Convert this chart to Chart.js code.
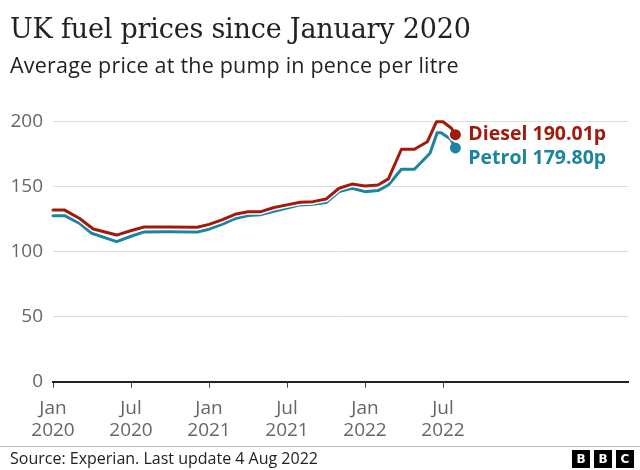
<!DOCTYPE html>
<html>
<head>
<meta charset="utf-8">
<script src="https://cdn.jsdelivr.net/npm/chart.js@4/dist/chart.umd.min.js"></script>
<style>
  html, body { margin: 0; padding: 0; background: #fff; }
  #wrap { position: relative; width: 640px; height: 470px; overflow: hidden; }
  #title { position: absolute; left: 10px; top: 13px; font-family: "DejaVu Serif", serif; font-size: 27px; color: #222; white-space: nowrap; letter-spacing: -0.2px; }
  #subtitle { position: absolute; left: 10px; top: 50px; font-family: "Open Sans", sans-serif; font-size: 21.5px; color: #222; white-space: nowrap; letter-spacing: 0.2px; }
  #rule { position: absolute; left: 0; top: 446px; width: 640px; height: 1px; background: #bbb; }
  #source { position: absolute; left: 10px; top: 447px; font-family: "Open Sans", sans-serif; font-size: 16px; color: #222; white-space: nowrap; }
  #logo { position: absolute; left: 572px; top: 450px; display: flex; gap: 4px; }
  #logo span { display: block; width: 18px; height: 18px; background: #000; color: #fff; font-family: "DejaVu Sans", sans-serif; font-weight: bold; font-size: 12px; line-height: 18px; text-align: center; }
  canvas { position: absolute; left: 0; top: 0; }
</style>
</head>
<body>
<div id="wrap">
  <canvas id="c" width="640" height="470"></canvas>
  <div id="title">UK fuel prices since January 2020</div>
  <div id="subtitle">Average price at the pump in pence per litre</div>
  <div id="rule"></div>
  <div id="source">Source: Experian. Last update 4 Aug 2022</div>
  <div id="logo"><span>B</span><span>B</span><span>C</span></div>
</div>
<script>
// Months since January 2020
const dieselMonths = [0, 0.9, 2.05, 3.1, 4.9, 5.9, 7, 8.8, 11.1, 12, 13, 14, 15, 16, 17, 18, 19, 20, 21, 22, 23, 24, 25, 25.8, 26.8, 27.8, 28.8, 29.5, 30, 30.65, 30.95];
const dieselPrices = [132, 132, 125.5, 117.5, 112.8, 115.9, 119, 119, 118.8, 121, 124.5, 128.8, 130.8, 130.8, 134, 136, 138, 138.5, 140.5, 148.8, 152, 150.5, 151.3, 156, 178.8, 178.8, 184.6, 200, 200, 195, 190.01];
const petrolMonths = [0, 0.9, 2.05, 2.97, 4.9, 5.9, 7, 8.8, 11.1, 12, 13, 14, 15, 16, 17, 18, 19, 20, 21, 22, 23, 24, 25, 25.8, 26.8, 27.8, 29, 29.55, 29.85, 30.6, 30.95];
const petrolPrices = [127.7, 127.7, 121.8, 114.2, 107.8, 111.5, 115.2, 115.4, 115.2, 117.3, 121, 125.5, 127.8, 128.5, 131, 133.5, 136, 136.5, 137.8, 146.2, 148.8, 146.2, 147, 151.3, 163.4, 163.4, 175.7, 191.5, 191.5, 186.5, 179.8];
const tickMonths = [0, 6, 12, 18, 24, 30];
const tickLabels = [['Jan', '2020'], ['Jul', '2020'], ['Jan', '2021'], ['Jul', '2021'], ['Jan', '2022'], ['Jul', '2022']];
const yTicks = [0, 50, 100, 150, 200];
const seriesNames = ['Diesel', 'Petrol'];

const DIESEL = '#a3190c';
const PETROL = '#1c83a0';

function pts(xs, ys) { return xs.map((x, i) => ({ x: x, y: ys[i] })); }
function lastOnly(r) { return ctx => ctx.dataIndex === ctx.dataset.data.length - 1 ? r : 0; }

const lineDs = (label, xs, ys, color) => ({
  label, data: pts(xs, ys), borderColor: color, backgroundColor: color,
  borderWidth: 3, tension: 0, borderJoinStyle: 'round', borderCapStyle: 'round',
  pointRadius: lastOnly(5.5), pointBorderWidth: 0, pointHoverRadius: 0, clip: false
});
const haloDs = (xs, ys) => ({
  label: 'halo', data: pts(xs, ys), borderColor: '#fff', backgroundColor: '#fff',
  borderWidth: 6, tension: 0, borderJoinStyle: 'round', borderCapStyle: 'round',
  pointRadius: lastOnly(7), pointBorderWidth: 0, pointHoverRadius: 0, clip: false
});

const endLabels = {
  id: 'endLabels',
  afterDatasetsDraw(chart) {
    const ctx = chart.ctx;
    const specs = [
      { idx: 0, name: seriesNames[0], vals: dieselPrices, color: DIESEL, dy: 0 },
      { idx: 2, name: seriesNames[1], vals: petrolPrices, color: PETROL, dy: 10 }
    ];
    ctx.save();
    ctx.font = 'bold 19.5px "Open Sans", sans-serif';
    ctx.textBaseline = 'middle';
    ctx.textAlign = 'left';
    specs.forEach(s => {
      const meta = chart.getDatasetMeta(s.idx);
      const p = meta.data[meta.data.length - 1];
      ctx.fillStyle = s.color;
      ctx.fillText(s.name + ' ' + s.vals[s.vals.length - 1].toFixed(2) + 'p', p.x + 13, p.y + s.dy);
    });
    ctx.restore();
  }
};

new Chart(document.getElementById('c'), {
  type: 'line',
  data: {
    datasets: [
      lineDs(seriesNames[0], dieselMonths, dieselPrices, DIESEL),
      haloDs(dieselMonths, dieselPrices),
      lineDs(seriesNames[1], petrolMonths, petrolPrices, PETROL),
      haloDs(petrolMonths, petrolPrices)
    ]
  },
  options: {
    responsive: false,
    animation: false,
    events: [],
    layout: { padding: { top: 108.7, right: 12, left: 0, bottom: 0 } },
    plugins: { legend: { display: false }, tooltip: { enabled: false }, title: { display: false } },
    scales: {
      x: {
        type: 'linear', min: 0, max: 44.23,
        afterBuildTicks(scale) { scale.ticks = tickMonths.map(v => ({ value: v })); },
        afterFit(scale) { scale.height = 88.3; },
        border: { display: true, color: '#222', width: 2 },
        grid: { drawOnChartArea: false, drawTicks: true, tickLength: 6, color: '#444', lineWidth: 1 },
        ticks: {
          autoSkip: false, maxRotation: 0, padding: 10, color: '#666',
          font: { family: '"Open Sans", sans-serif', size: 19, lineHeight: 1.15 },
          callback(v) { const i = tickMonths.indexOf(v); return i >= 0 ? tickLabels[i] : ''; }
        }
      },
      y: {
        min: 0, max: 210,
        afterBuildTicks(scale) { scale.ticks = yTicks.map(v => ({ value: v })); },
        afterFit(scale) { scale.width = 53; },
        border: { display: false },
        grid: { drawTicks: false, color: ctx => ctx.tick && ctx.tick.value === 0 ? 'rgba(0,0,0,0)' : '#dcdcdc', lineWidth: 1 },
        ticks: { padding: 10, color: '#666', font: { family: '"Open Sans", sans-serif', size: 19 } }
      }
    }
  },
  plugins: [endLabels]
});
</script>
</body>
</html>
